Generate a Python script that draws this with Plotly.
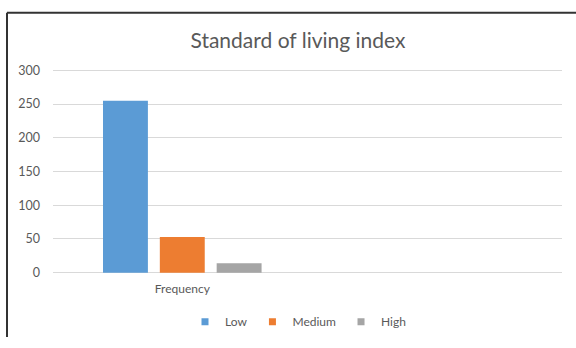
import plotly.graph_objects as go

categories = ["Frequency"]
series_names = ["Low", "Medium", "High"]
low_values = [255]
medium_values = [53]
high_values = [14]
colors = ["#5B9BD5", "#ED7D31", "#A5A5A5"]
y_ticks = [0, 50, 100, 150, 200, 250, 300]

W, H = 576, 348
ml, mr, mt, mb = 53, 14, 69, 64
pw, ph = W - ml - mr, H - mt - mb

fig = go.Figure()
for name, vals, col in zip(series_names, [low_values, medium_values, high_values], colors):
    fig.add_trace(go.Bar(x=categories, y=vals, name=name, showlegend=False,
                         marker=dict(color=col, line=dict(width=0))))
# legend entries (small square keys as in the reference)
for name, col in zip(series_names, colors):
    fig.add_trace(go.Scatter(x=[None], y=[None], mode="markers", name=name,
                             marker=dict(symbol="square", size=7, color=col)))

def px_x(x):
    return (x - ml) / pw

def px_y(y):
    return (H - mb - y) / ph

text_col = "#595959"
font = "Lato, 'Open Sans', sans-serif"

fig.update_layout(
    width=W, height=H,
    margin=dict(l=ml, r=mr, t=mt, b=mb, pad=0),
    paper_bgcolor="white", plot_bgcolor="white",
    barmode="group", bargap=0.33, bargroupgap=0.21,
    font=dict(family=font, color=text_col, size=12),
    title=dict(text="Standard of living index", x=298 / W, xanchor="center",
               y=1 - 41 / H, yanchor="middle",
               font=dict(size=21, color=text_col, family=font)),
    xaxis=dict(type="category", range=[-0.508, 1.492], showgrid=False, showline=False,
               ticks="", ticklabelstandoff=6, tickfont=dict(size=12, color=text_col)),
    yaxis=dict(range=[-2, 302], tickvals=y_ticks, showgrid=True, gridcolor="#D9D9D9",
               gridwidth=1, zeroline=False, showline=False, ticks="",
               ticklabelstandoff=12, tickfont=dict(size=12.5, color=text_col)),
    legend=dict(orientation="h", x=px_x(298), xanchor="center", y=px_y(334), yanchor="middle",
                font=dict(size=12, color=text_col), itemwidth=30, traceorder="normal"),
    showlegend=True,
)

# chart border (top and left edges visible in the reference)
fig.add_shape(type="line", xref="paper", yref="paper",
              x0=px_x(7), x1=px_x(W + 2), y0=px_y(10), y1=px_y(10),
              line=dict(color="#333333", width=2))
fig.add_shape(type="line", xref="paper", yref="paper",
              x0=px_x(7), x1=px_x(7), y0=px_y(10), y1=px_y(H + 2),
              line=dict(color="#333333", width=2))

fig.write_html("out.html")
